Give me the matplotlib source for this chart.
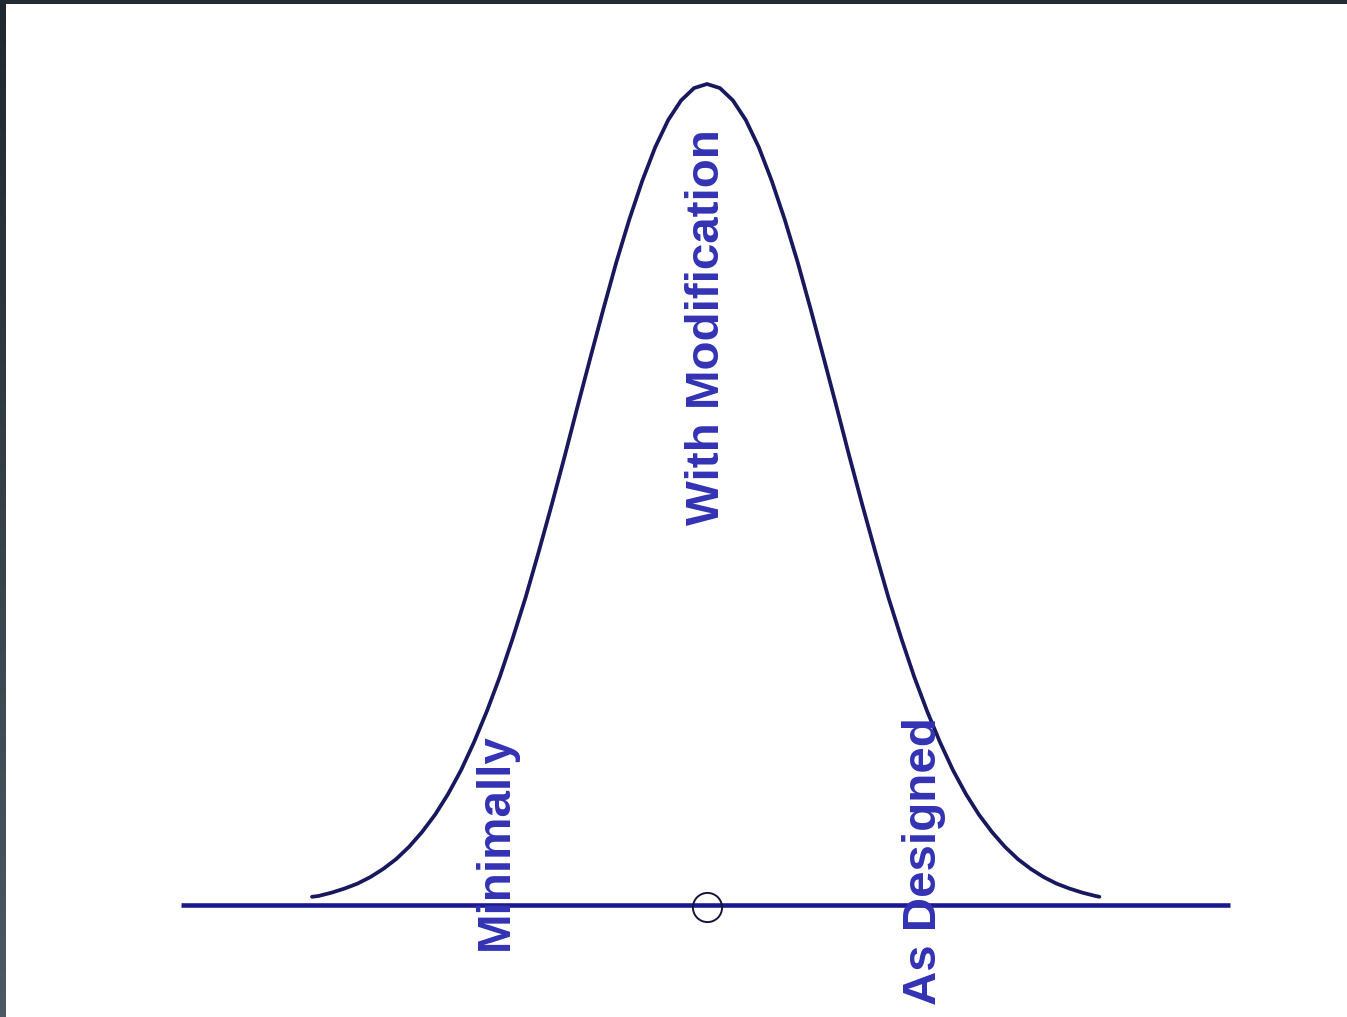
import numpy as np
import matplotlib
matplotlib.use("Agg")
import matplotlib.pyplot as plt
from matplotlib.patches import Rectangle
from matplotlib.colors import LinearSegmentedColormap

# Bell curve (x in standard deviations, y relative height)
curve_x = [-3.05, -3.0, -2.9, -2.8, -2.7, -2.6, -2.5, -2.4, -2.3, -2.2, -2.1, -2.0,
           -1.9, -1.8, -1.7, -1.6, -1.5, -1.4, -1.3, -1.2, -1.1, -1.0,
           -0.9, -0.8, -0.7, -0.6, -0.5, -0.4, -0.3, -0.2, -0.1, 0.0,
           0.1, 0.2, 0.3, 0.4, 0.5, 0.6, 0.7, 0.8, 0.9, 1.0,
           1.1, 1.2, 1.3, 1.4, 1.5, 1.6, 1.7, 1.8, 1.9, 2.0,
           2.1, 2.2, 2.3, 2.4, 2.5, 2.6, 2.7, 2.8, 2.9, 3.0, 3.03]
curve_y = [0.010, 0.011, 0.015, 0.020, 0.026, 0.034, 0.044, 0.056, 0.071, 0.089, 0.110, 0.135,
           0.164, 0.198, 0.236, 0.278, 0.325, 0.375, 0.430, 0.487, 0.546, 0.607,
           0.667, 0.726, 0.783, 0.835, 0.882, 0.923, 0.956, 0.980, 0.995, 1.000,
           0.995, 0.980, 0.956, 0.923, 0.882, 0.835, 0.783, 0.726, 0.667, 0.607,
           0.546, 0.487, 0.430, 0.375, 0.325, 0.278, 0.236, 0.198, 0.164, 0.135,
           0.110, 0.089, 0.071, 0.056, 0.044, 0.034, 0.026, 0.020, 0.015, 0.011, 0.010]

baseline_x = [-4.06, 4.04]
baseline_y = [0.0, 0.0]
center_x = [0.0]
center_y = [-0.002]

labels = ["With Modification", "Minimally", "As Designed"]
label_x = [0.093, -1.537, 1.770]
label_y = [0.463, -0.0548, -0.1218]

W, H = 1347, 1017
fig = plt.figure(figsize=(W / 100, H / 100), dpi=100)
fig.patch.set_facecolor("white")
ax = fig.add_axes([0, 0, 1, 1])
ax.set_xlim(-5.4595, 4.9421)
ax.set_ylim(-0.1364, 1.1023)
ax.axis("off")

ax.plot(baseline_x, baseline_y, color="#1a1a8e", lw=3.3, solid_capstyle="butt", zorder=2)
ax.plot(curve_x, curve_y, color="#18185e", lw=2.7, solid_capstyle="round",
        solid_joinstyle="round", zorder=3)
ax.plot(center_x, center_y, marker="o", ms=21, mfc="none", mec="#15153a", mew=1.4,
        linestyle="none", zorder=4)

for t, x, y in zip(labels, label_x, label_y):
    ax.text(x, y, t, rotation=90, rotation_mode="anchor", ha="left", va="baseline",
            fontsize=34.2, fontweight="bold", family=["Liberation Sans", "DejaVu Sans"],
            color="#3232b4", zorder=5)

# dark window border at top and left
fig.patches.append(Rectangle((0, 1 - 4 / H), 1, 4 / H, transform=fig.transFigure,
                             facecolor="#222a33", edgecolor="none", zorder=10))
gax = fig.add_axes([0, 0, 6 / W, 1])
grad = np.linspace(0, 1, 256).reshape(-1, 1)
cmap = LinearSegmentedColormap.from_list("b", ["#1f272f", "#4e5963"])
gax.imshow(grad, aspect="auto", cmap=cmap, extent=[0, 1, 0, 1], origin="upper")
gax.axis("off")

fig.savefig("out.png", dpi=100)
